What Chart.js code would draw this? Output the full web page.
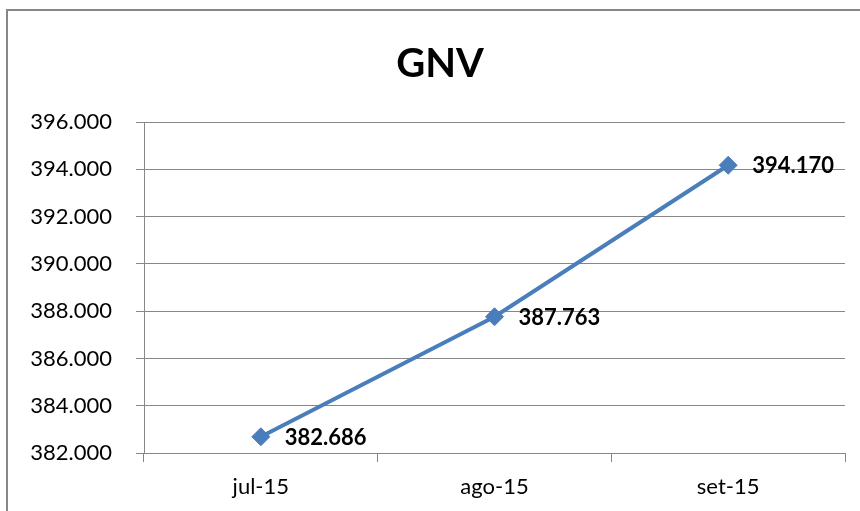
<!DOCTYPE html>
<html>
<head>
<meta charset="utf-8">
<script src="https://cdn.jsdelivr.net/npm/chart.js@4/dist/chart.umd.min.js"></script>
<style>
  html, body { margin: 0; padding: 0; background: #fff; overflow: hidden; }
  #wrap { position: absolute; left: 0; top: 0; width: 860px; height: 511px; }
  #frame { position: absolute; left: 6px; top: 9px; width: 860px; height: 520px;
           border-left: 2px solid #878787; border-top: 2px solid #878787; pointer-events: none; }
</style>
</head>
<body>
<div id="wrap"><canvas id="c" width="860" height="511"></canvas></div>
<div id="frame"></div>
<script>
const chartTitle = 'GNV';
const categories = ['jul-15', 'ago-15', 'set-15'];
const gnvValues = [382686, 387763, 394170];
const yMin = 382000, yMax = 396000, yStep = 2000;

const fmt3 = v => String(Math.round(v)).replace(/\B(?=(\d{3})+(?!\d))/g, '.');

const labelPlugin = {
  id: 'pointLabels',
  afterDatasetsDraw(chart) {
    const ctx = chart.ctx;
    const meta = chart.getDatasetMeta(0);
    ctx.save();
    ctx.font = 'bold 22px Lato';
    ctx.fillStyle = '#000';
    ctx.textAlign = 'left';
    ctx.textBaseline = 'middle';
    meta.data.forEach((pt, i) => {
      ctx.fillText(fmt3(gnvValues[i]), pt.x + 24, pt.y + 1);
    });
    ctx.restore();
  },
  afterDraw(chart) {
    const ctx = chart.ctx;
    ctx.save();
    ctx.font = 'bold 40px Lato';
    ctx.fillStyle = '#000';
    ctx.textAlign = 'center';
    ctx.textBaseline = 'middle';
    ctx.fillText(chartTitle, 440, 64);
    ctx.restore();
  }
};

new Chart(document.getElementById('c'), {
  type: 'line',
  data: {
    labels: categories,
    datasets: [{
      data: gnvValues,
      borderColor: '#4a7ebb',
      backgroundColor: '#4a7ebb',
      borderWidth: 4,
      pointStyle: 'rectRot',
      pointRadius: 9,
      pointBorderWidth: 1,
      pointBorderColor: '#4a7ebb',
      pointBackgroundColor: '#4a7ebb',
      tension: 0
    }]
  },
  options: {
    responsive: false,
    animation: false,
    devicePixelRatio: 1,
    layout: { padding: { left: 0, right: 15, top: 122, bottom: 0 } },
    plugins: {
      legend: { display: false },
      tooltip: { enabled: false },
      title: { display: false }
    },
    scales: {
      x: {
        offset: true,
        afterFit(scale) { scale.height = 58; },
        grid: { display: true, offset: true, drawOnChartArea: false, tickLength: 9, color: '#878787', lineWidth: 1 },
        border: { display: true, color: '#878787', width: 1 },
        ticks: { color: '#000', font: { family: 'Lato', size: 22 }, padding: 12, maxRotation: 0 }
      },
      y: {
        min: yMin, max: yMax,
        afterFit(scale) { scale.width = 144; },
        grid: { color: '#878787', lineWidth: 1, tickLength: 8 },
        border: { display: true, color: '#878787', width: 1 },
        ticks: { stepSize: yStep, color: '#000', font: { family: 'Lato', size: 22 }, padding: 24,
                 callback: v => fmt3(v) }
      }
    }
  },
  plugins: [labelPlugin]
});
</script>
</body>
</html>
